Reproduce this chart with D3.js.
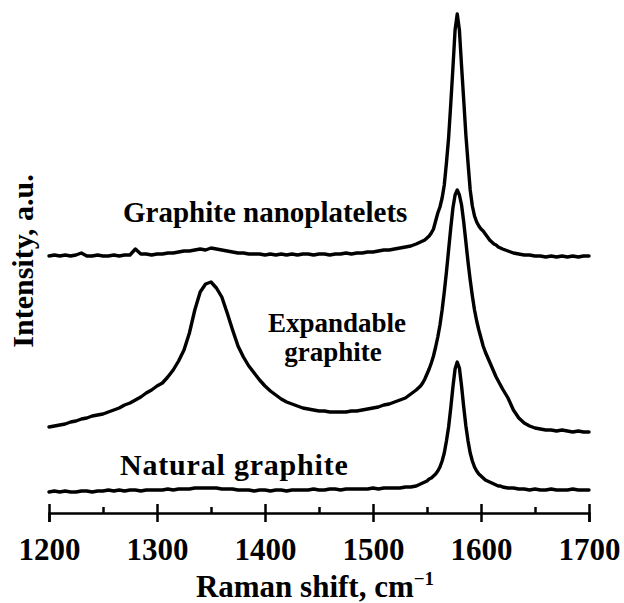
<!DOCTYPE html>
<html>
<head>
<meta charset="utf-8">
<script src="https://cdn.jsdelivr.net/npm/d3@7"></script>
<style>
  html, body { margin: 0; padding: 0; background: #fff; }
  svg { display: block; }
  text { font-family: "Liberation Serif", "Times New Roman", serif; font-weight: bold; fill: #000; }
</style>
</head>
<body>
<svg id="chart" width="624" height="603"></svg>
<script>
// Raman shift sampling (cm^-1): coarse on the flat parts, fine across the G band
const shift = [
  1200,1205,1210,1215,1220,1225,1230,1235,1240,1245,
  1250,1255,1260,1265,1270,1275,1280,1285,1290,1295,
  1300,1305,1310,1315,1320,1325,1330,1335,1340,1345,
  1350,1355,1360,1365,1370,1375,1380,1385,1390,1395,
  1400,1405,1410,1415,1420,1425,1430,1435,1440,1445,
  1450,1455,1460,1465,1470,1475,1480,1485,1490,1495,
  1500,1505,1510,1515,1520,1525,1530,1535,1540,
  1542,1544,1546,1548,1550,1552,1554,1556,1558,1560,
  1562,1564,1566,1568,1570,1572,1574,1576,1578,1580,
  1582,1584,1586,1588,1590,1592,1594,1596,1598,1600,
  1602,1604,1606,1608,1610,1612,1614,1616,1618,1620,
  1625,1630,1635,1640,1645,1650,1655,1660,1665,1670,1675,1680,1685,1690,1695,1700
];

// Intensities (a.u., spectra stacked with vertical offsets)
const naturalGraphite = [
  21,22,21,22,21,21,22,22,21,22,
  22,23,22,23,22,23,23,22,23,23,
  23,23,24,23,24,24,24,25,25,25,
  25,25,24,24,24,23,23,23,22,23,
  23,22,23,23,22,23,23,23,23,24,
  23,23,24,24,23,24,24,24,24,24,
  25,24,25,25,25,25,26,26,27,
  28,29,30,31,32,34,35,37,39,42,
  46,52,60,72,86,105,126,144,151,145,
  127,106,87,72,60,52,46,42,39,37,
  35,33,32,31,30,29,28,27,27,26,
  25,25,24,24,23,24,23,23,24,23,23,23,24,23,23,23
];

const expandableGraphite = [
  86,87,88,89,91,92,94,95,97,98,
  99,101,103,105,108,110,113,116,120,123,
  127,130,136,143,152,163,180,203,221,229,
  231,225,216,200,183,167,156,147,140,133,
  127,122,118,114,111,109,107,105,104,103,
  102,102,101,101,101,101,102,102,103,104,
  105,106,108,109,111,113,115,119,123,
  125,127,130,134,139,144,150,157,166,176,
  188,203,221,241,263,285,305,318,323,318,
  308,291,271,251,233,217,203,192,183,175,
  167,161,156,151,146,141,136,132,128,124,
  115,103,95,90,87,85,84,83,83,82,83,82,81,82,81,81
];

const graphiteNanoplatelets = [
  257,258,257,258,257,258,260,257,257,258,
  257,257,258,257,258,258,264,259,259,258,
  259,259,260,260,261,262,262,263,264,263,
  265,264,263,262,261,260,260,259,259,259,
  258,259,258,259,258,259,258,259,259,258,
  259,259,258,259,259,260,259,260,260,261,
  261,262,263,263,264,265,266,267,269,
  270,271,272,273,275,277,280,284,292,300,
  306,315,328,350,375,409,445,483,499,483,
  447,413,378,350,323,307,297,291,287,284,
  282,279,276,273,271,269,268,266,265,264,
  262,260,259,258,258,257,257,256,257,256,257,256,257,256,257,257
];

const majorTicks = [1200, 1300, 1400, 1500, 1600, 1700];
const minorTicks = [1250, 1350, 1450, 1550, 1650];

const seriesList = [naturalGraphite, expandableGraphite, graphiteNanoplatelets];

const svg = d3.select("#chart");
const W = 624, H = 603;
const margin = { left: 49, right: 35, top: 13, bottom: 90 };
const axisY = H - margin.bottom;

const x = d3.scaleLinear().domain([1200, 1700]).range([margin.left, W - margin.right]);
const y = d3.scaleLinear().domain([0, 500]).range([axisY, margin.top]);

// spectra
const line = d3.line()
  .x((d, i) => x(shift[i]))
  .y(d => y(d))
  .curve(d3.curveLinear);

svg.append("g").selectAll("path")
  .data(seriesList)
  .join("path")
  .attr("d", line)
  .attr("fill", "none")
  .attr("stroke", "#000")
  .attr("stroke-width", 3.4)
  .attr("stroke-linejoin", "round")
  .attr("stroke-linecap", "round");

// x axis: major ticks crossing the baseline, short minor ticks above it
const axis = svg.append("g").attr("transform", `translate(0,${axisY})`);
axis.call(d3.axisBottom(x).tickValues(majorTicks).tickSizeOuter(0).tickSize(9).tickFormat(d3.format("d")));
axis.select(".domain").attr("stroke", "#000").attr("stroke-width", 2.5);
axis.selectAll(".tick line").attr("y1", -9).attr("y2", 9).attr("stroke", "#000").attr("stroke-width", 2.5);
axis.selectAll(".tick text")
  .attr("y", 47).attr("dy", null)
  .style("font-size", "31px")
  .style("font-family", "'Liberation Serif', 'Times New Roman', serif")
  .style("font-weight", "bold")
  .attr("fill", "#000");

const minor = svg.append("g").attr("transform", `translate(0,${axisY})`);
minor.call(d3.axisBottom(x).tickValues(minorTicks).tickSizeOuter(0).tickSize(-6).tickFormat(""));
minor.select(".domain").remove();
minor.selectAll(".tick line").attr("stroke", "#000").attr("stroke-width", 2.5);

// axis titles
const xt = svg.append("text")
  .attr("x", 315).attr("y", 597)
  .attr("text-anchor", "middle")
  .style("font-size", "31px");
xt.append("tspan").text("Raman shift, cm");
xt.append("tspan").attr("dy", -12).style("font-size", "19px").text("\u22121");

svg.append("text")
  .attr("transform", "translate(33,261) rotate(-90)")
  .attr("text-anchor", "middle")
  .style("font-size", "30px")
  .text("Intensity, a.u.");

// spectrum labels
svg.append("text").attr("x", 123).attr("y", 222).style("font-size", "29px").text("Graphite nanoplatelets");
svg.append("text").attr("x", 337).attr("y", 332).attr("text-anchor", "middle").style("font-size", "27px").text("Expandable");
svg.append("text").attr("x", 333).attr("y", 361).attr("text-anchor", "middle").style("font-size", "27px").text("graphite");
svg.append("text").attr("x", 120).attr("y", 475).style("font-size", "30px").style("letter-spacing", "0.8px").text("Natural graphite");
</script>
</body>
</html>
